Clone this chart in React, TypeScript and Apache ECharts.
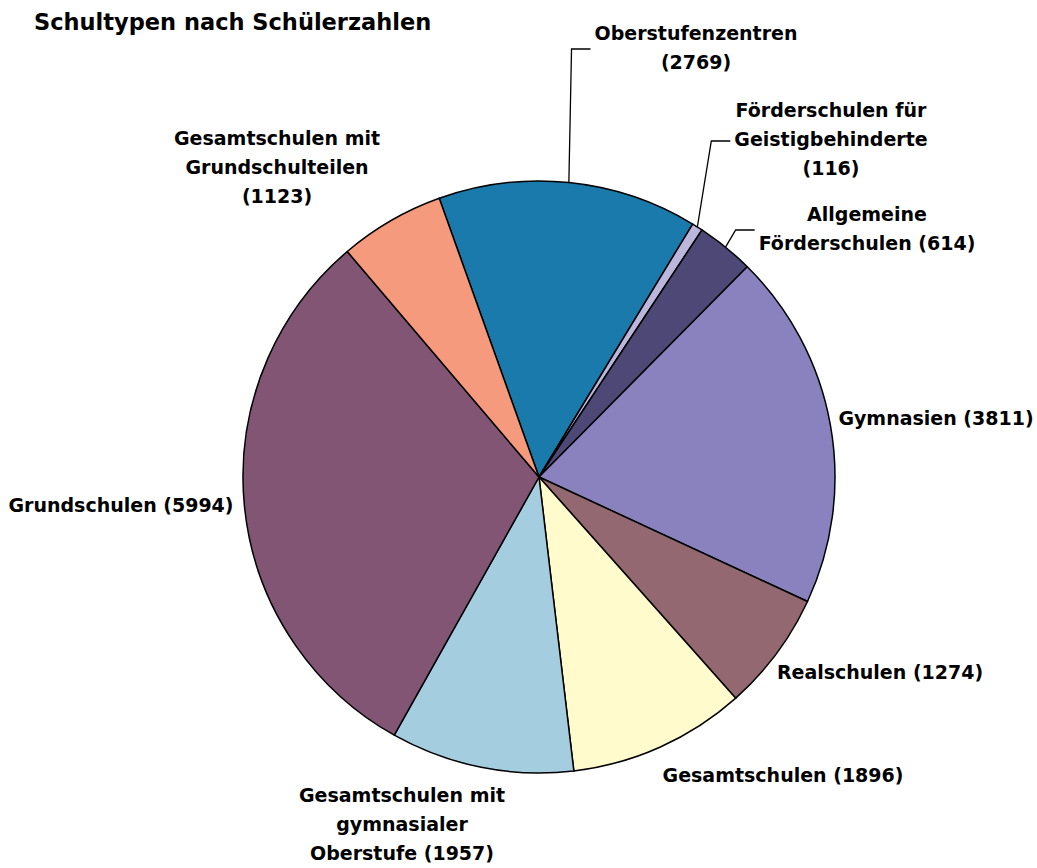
import React, { useEffect, useRef } from 'react';
import * as echarts from 'echarts';

// Data (clockwise from Oberstufenzentren)
const SCHOOL_TYPES = [
  'Oberstufenzentren',
  'Förderschulen für Geistigbehinderte',
  'Allgemeine Förderschulen',
  'Gymnasien',
  'Realschulen',
  'Gesamtschulen',
  'Gesamtschulen mit gymnasialer Oberstufe',
  'Grundschulen',
  'Gesamtschulen mit Grundschulteilen',
];
const STUDENTS = [2769, 116, 614, 3811, 1274, 1896, 1957, 5994, 1123];
const LABEL_PREFIX = [
  'Oberstufenzentren\n',
  'Förderschulen für\nGeistigbehinderte\n',
  'Allgemeine\nFörderschulen ',
  'Gymnasien ',
  'Realschulen ',
  'Gesamtschulen ',
  'Gesamtschulen mit\ngymnasialer\nOberstufe ',
  'Grundschulen ',
  'Gesamtschulen mit\nGrundschulteilen\n',
];
const COLORS = [
  '#1a7aab',
  '#bcb6dc',
  '#4d4876',
  '#8982bf',
  '#936870',
  '#fffbcc',
  '#a4cde0',
  '#815573',
  '#f59a7c',
];
const HAS_LEADER = [true, true, true, false, false, false, false, false, false];

// Layout (label centres in px)
const LABEL_CENTERS: [number, number][] = [
  [696, 47],
  [831, 139],
  [867, 228],
  [936, 418],
  [880, 672],
  [783, 775],
  [402, 824],
  [121, 505],
  [277, 167],
];

const FONT = '"DejaVu Sans", Arial, sans-serif';
const LABEL_SIZE = 19;

function labelText(i: number, value: number) {
  return LABEL_PREFIX[i] + '(' + value + ')';
}

function widestLine(text: string): number {
  const ctx = document.createElement('canvas').getContext('2d');
  if (!ctx) return 0;
  ctx.font = `bold ${LABEL_SIZE}px ${FONT}`;
  return Math.max(...text.split('\n').map((l) => ctx.measureText(l).width));
}

export default function App() {
  const ref = useRef<HTMLDivElement>(null);
  useEffect(() => {
    const chart = echarts.init(ref.current!, null, { renderer: 'svg' });
    const data = SCHOOL_TYPES.map((name, i) => ({
      name,
      value: STUDENTS[i],
      itemStyle: { color: COLORS[i] },
      labelLine: { show: HAS_LEADER[i] },
    }));
    chart.setOption({
      animation: false,
      backgroundColor: '#ffffff',
      title: {
        text: 'Schultypen nach Schülerzahlen',
        left: 34,
        top: 10,
        padding: 0,
        textStyle: {
          fontFamily: FONT,
          fontWeight: 'bold',
          fontSize: 22.5,
          color: '#000',
        },
      },
      series: [
        {
          type: 'pie',
          center: [539, 477],
          radius: 296,
          startAngle: 109.7,
          clockwise: true,
          data,
          emphasis: { disabled: true },
          itemStyle: { borderColor: '#000', borderWidth: 1.5 },
          label: {
            show: true,
            position: 'outside',
            formatter: (p: any) => labelText(p.dataIndex, p.value),
            fontFamily: FONT,
            fontWeight: 'bold',
            fontSize: LABEL_SIZE,
            lineHeight: 29,
            color: '#000',
            width: 320,
            overflow: 'none',
          },
          labelLine: {
            show: false,
            length: 20,
            length2: 20,
            lineStyle: { color: '#000', width: 1.3 },
          },
          labelLayout: (params: any) => {
            const i = params.dataIndex;
            const [cx, cy] = LABEL_CENTERS[i];
            const out: any = { x: cx, y: cy, align: 'center', verticalAlign: 'middle' };
            if (HAS_LEADER[i] && params.labelLinePoints) {
              const w = widestLine(labelText(i, STUDENTS[i]));
              const left = cx - w / 2;
              const a = params.labelLinePoints[0];
              const ly = cy + 2;
              out.labelLinePoints = [
                [a[0], a[1]],
                [left - 23, ly],
                [left - 4, ly],
              ];
            }
            return out;
          },
        },
      ],
    });
    return () => chart.dispose();
  }, []);
  return (
    <div
      ref={ref}
      style={{ position: 'absolute', left: 0, top: 0, width: 1037, height: 868 }}
    />
  );
}
